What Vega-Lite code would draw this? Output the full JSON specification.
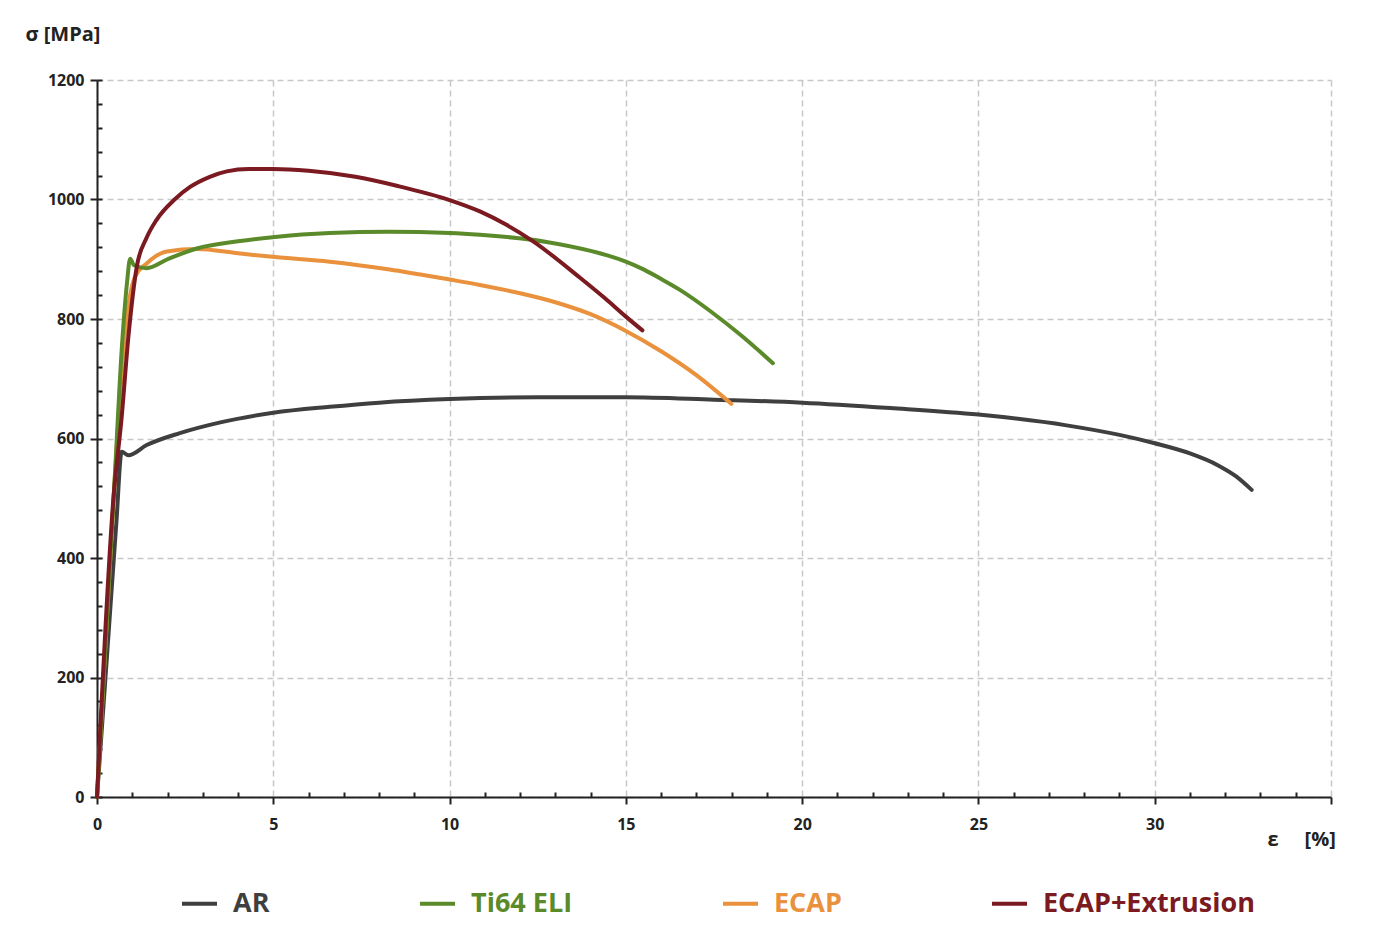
{
  "$schema": "https://vega.github.io/schema/vega-lite/v6.json",
  "width": 1234,
  "height": 717,
  "autosize": {"type": "none"},
  "padding": {"left": 97, "top": 80, "right": 43, "bottom": 149},
  "background": "white",
  "config": {
    "view": {"stroke": null},
    "font": "Open Sans"
  },
  "data": {
    "values": [
      {"s": "AR", "e": 0, "sig": 0}, {"s": "AR", "e": 0.3, "sig": 250}, {"s": "AR", "e": 0.55, "sig": 460},
      {"s": "AR", "e": 0.7, "sig": 578}, {"s": "AR", "e": 0.89, "sig": 572}, {"s": "AR", "e": 1.41, "sig": 589},
      {"s": "AR", "e": 2.35, "sig": 609}, {"s": "AR", "e": 3.5, "sig": 627}, {"s": "AR", "e": 5, "sig": 643},
      {"s": "AR", "e": 6.6, "sig": 653}, {"s": "AR", "e": 8, "sig": 660}, {"s": "AR", "e": 10, "sig": 666},
      {"s": "AR", "e": 12.5, "sig": 669}, {"s": "AR", "e": 15, "sig": 669}, {"s": "AR", "e": 17.5, "sig": 665},
      {"s": "AR", "e": 20, "sig": 660}, {"s": "AR", "e": 22.5, "sig": 651}, {"s": "AR", "e": 25, "sig": 640},
      {"s": "AR", "e": 27.5, "sig": 622}, {"s": "AR", "e": 29, "sig": 606}, {"s": "AR", "e": 30, "sig": 592},
      {"s": "AR", "e": 31, "sig": 575}, {"s": "AR", "e": 31.8, "sig": 555}, {"s": "AR", "e": 32.3, "sig": 537},
      {"s": "AR", "e": 32.75, "sig": 514},

      {"s": "ECAP", "e": 0, "sig": 0}, {"s": "ECAP", "e": 0.5, "sig": 530}, {"s": "ECAP", "e": 0.8, "sig": 780},
      {"s": "ECAP", "e": 1.08, "sig": 871}, {"s": "ECAP", "e": 1.41, "sig": 893}, {"s": "ECAP", "e": 1.98, "sig": 913},
      {"s": "ECAP", "e": 2.83, "sig": 917}, {"s": "ECAP", "e": 4, "sig": 910}, {"s": "ECAP", "e": 4.98, "sig": 904},
      {"s": "ECAP", "e": 6.6, "sig": 896}, {"s": "ECAP", "e": 8.3, "sig": 883}, {"s": "ECAP", "e": 10, "sig": 866},
      {"s": "ECAP", "e": 10.86, "sig": 857}, {"s": "ECAP", "e": 12, "sig": 843}, {"s": "ECAP", "e": 13, "sig": 828},
      {"s": "ECAP", "e": 14, "sig": 808}, {"s": "ECAP", "e": 15, "sig": 780}, {"s": "ECAP", "e": 16, "sig": 746},
      {"s": "ECAP", "e": 17, "sig": 706}, {"s": "ECAP", "e": 17.99, "sig": 658},

      {"s": "Ti64 ELI", "e": 0, "sig": 0}, {"s": "Ti64 ELI", "e": 0.5, "sig": 530}, {"s": "Ti64 ELI", "e": 0.7, "sig": 748},
      {"s": "Ti64 ELI", "e": 0.85, "sig": 860}, {"s": "Ti64 ELI", "e": 0.94, "sig": 901}, {"s": "Ti64 ELI", "e": 1.05, "sig": 890},
      {"s": "Ti64 ELI", "e": 1.41, "sig": 885}, {"s": "Ti64 ELI", "e": 2, "sig": 900}, {"s": "Ti64 ELI", "e": 2.83, "sig": 918},
      {"s": "Ti64 ELI", "e": 4, "sig": 930}, {"s": "Ti64 ELI", "e": 4.98, "sig": 937}, {"s": "Ti64 ELI", "e": 6.6, "sig": 944},
      {"s": "Ti64 ELI", "e": 8.3, "sig": 946}, {"s": "Ti64 ELI", "e": 10, "sig": 944}, {"s": "Ti64 ELI", "e": 10.86, "sig": 941},
      {"s": "Ti64 ELI", "e": 12.75, "sig": 929}, {"s": "Ti64 ELI", "e": 14, "sig": 914}, {"s": "Ti64 ELI", "e": 14.5, "sig": 906},
      {"s": "Ti64 ELI", "e": 15, "sig": 896}, {"s": "Ti64 ELI", "e": 15.5, "sig": 883}, {"s": "Ti64 ELI", "e": 16, "sig": 867},
      {"s": "Ti64 ELI", "e": 16.5, "sig": 850}, {"s": "Ti64 ELI", "e": 17.4, "sig": 813}, {"s": "Ti64 ELI", "e": 18.3, "sig": 771},
      {"s": "Ti64 ELI", "e": 19.17, "sig": 726},

      {"s": "ECAP+Extrusion", "e": 0, "sig": 0}, {"s": "ECAP+Extrusion", "e": 0.47, "sig": 503}, {"s": "ECAP+Extrusion", "e": 0.7, "sig": 636},
      {"s": "ECAP+Extrusion", "e": 0.89, "sig": 770}, {"s": "ECAP+Extrusion", "e": 1.13, "sig": 888}, {"s": "ECAP+Extrusion", "e": 1.4, "sig": 935},
      {"s": "ECAP+Extrusion", "e": 1.69, "sig": 966}, {"s": "ECAP+Extrusion", "e": 2.2, "sig": 1000}, {"s": "ECAP+Extrusion", "e": 2.64, "sig": 1021},
      {"s": "ECAP+Extrusion", "e": 3.2, "sig": 1038}, {"s": "ECAP+Extrusion", "e": 3.68, "sig": 1047}, {"s": "ECAP+Extrusion", "e": 4.3, "sig": 1051},
      {"s": "ECAP+Extrusion", "e": 5, "sig": 1051}, {"s": "ECAP+Extrusion", "e": 6, "sig": 1048}, {"s": "ECAP+Extrusion", "e": 7.33, "sig": 1038},
      {"s": "ECAP+Extrusion", "e": 8.5, "sig": 1023}, {"s": "ECAP+Extrusion", "e": 10, "sig": 999}, {"s": "ECAP+Extrusion", "e": 10.86, "sig": 980},
      {"s": "ECAP+Extrusion", "e": 11.6, "sig": 958}, {"s": "ECAP+Extrusion", "e": 12.37, "sig": 930}, {"s": "ECAP+Extrusion", "e": 13.7, "sig": 869},
      {"s": "ECAP+Extrusion", "e": 14.4, "sig": 835}, {"s": "ECAP+Extrusion", "e": 15, "sig": 804}, {"s": "ECAP+Extrusion", "e": 15.47, "sig": 781}
    ]
  },
  "resolve": {"axis": {"x": "independent", "y": "independent"}},
  "layer": [
    {
      "mark": {"type": "line", "strokeWidth": 4, "interpolate": "monotone", "strokeCap": "round"},
      "encoding": {
        "x": {
          "field": "e", "type": "quantitative",
          "scale": {"domain": [0, 35], "nice": false, "zero": true},
          "axis": {
            "values": [0, 5, 10, 15, 20, 25, 30, 35],
            "labelExpr": "datum.value == 35 ? '' : datum.label",
            "labelFlush": false,
            "title": "ε\u00a0\u00a0\u00a0\u00a0\u00a0[%]",
            "titleX": 1170, "titleY": 42, "titleAlign": "left", "titleBaseline": "middle",
            "titleFontSize": 20, "titleFontWeight": "bold", "titleColor": "#222222",
            "labelFontSize": 16, "labelFontWeight": "bold", "labelColor": "#222222", "labelPadding": 12,
            "domainColor": "#222222", "domainWidth": 2,
            "tickColor": "#222222", "tickWidth": 2, "tickSize": 7,
            "grid": true, "gridColor": "#c8c8c8", "gridDash": [6, 4], "gridWidth": 1.5
          }
        },
        "y": {
          "field": "sig", "type": "quantitative",
          "scale": {"domain": [0, 1200], "nice": false},
          "axis": {
            "values": [0, 200, 400, 600, 800, 1000, 1200],
            "format": "d",
            "title": "σ [MPa]",
            "titleX": -72, "titleY": -46, "titleAngle": 0, "titleAlign": "left", "titleBaseline": "middle",
            "titleFontSize": 20, "titleFontWeight": "bold", "titleColor": "#222222",
            "labelFontSize": 16, "labelFontWeight": "bold", "labelColor": "#222222", "labelPadding": 6,
            "domainColor": "#222222", "domainWidth": 2,
            "tickColor": "#222222", "tickWidth": 2, "tickSize": 7,
            "grid": true, "gridColor": "#c8c8c8", "gridDash": [6, 4], "gridWidth": 1.5
          }
        },
        "color": {
          "field": "s", "type": "nominal",
          "scale": {
            "domain": ["AR", "Ti64 ELI", "ECAP", "ECAP+Extrusion"],
            "range": ["#3f3f3f", "#5b8a2b", "#e9913d", "#7b1a20"]
          },
          "legend": {
            "orient": "none", "legendX": 83, "legendY": 804,
            "direction": "horizontal", "title": null,
            "symbolType": "stroke", "symbolSize": 1225, "symbolStrokeWidth": 4,
            "labelFont": "Open Sans", "labelFontSize": 27, "labelFontWeight": "bold",
            "labelOffset": 14, "columnPadding": 142, "labelLimit": 400,
            "encode": {"labels": {"update": {"fill": {"scale": "color", "field": "value"}}}}
          }
        },
        "order": {"field": "s", "sort": "ascending"}
      }
    },
    {
      "mark": {"type": "line", "opacity": 0},
      "encoding": {
        "x": {
          "field": "e", "type": "quantitative",
          "scale": {"domain": [0, 35], "nice": false},
          "axis": {
            "orient": "bottom",
            "values": [1,2,3,4,6,7,8,9,11,12,13,14,16,17,18,19,21,22,23,24,26,27,28,29,31,32,33,34],
            "labels": false, "domain": false, "grid": false, "title": null,
            "tickColor": "#222222", "tickWidth": 2, "tickSize": -5
          }
        },
        "y": {
          "field": "sig", "type": "quantitative",
          "scale": {"domain": [0, 1200], "nice": false},
          "axis": {
            "orient": "left",
            "values": [0,40,80,120,160,200,240,280,320,360,400,440,480,520,560,600,640,680,720,760,800,840,880,920,960,1000,1040,1080,1120,1160,1200],
            "labels": false, "domain": false, "grid": false, "title": null,
            "tickColor": "#222222", "tickWidth": 2, "tickSize": -5
          }
        },
        "detail": {"field": "s", "type": "nominal"}
      }
    }
  ]
}
